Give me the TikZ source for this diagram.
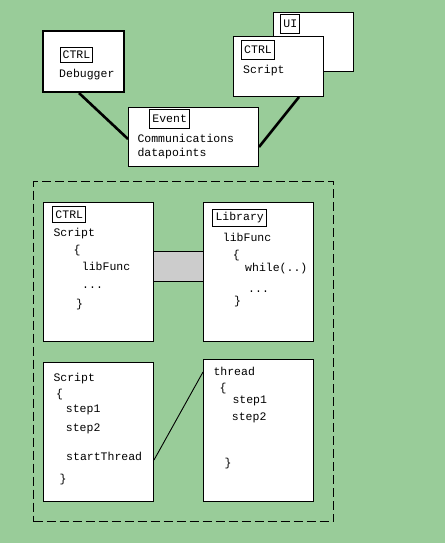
\documentclass[tikz,border=0pt]{standalone}
\usepackage{fontspec}
\newfontfamily\monof{Liberation Mono}
\usetikzlibrary{calc}
\definecolor{bggreen}{RGB}{153,204,153}
\definecolor{bridgegray}{RGB}{204,204,204}
\begin{document}
\begin{tikzpicture}[x=1pt,y=-1pt,
  box/.style={draw, fill=white, line width=1pt, inner sep=0pt, anchor=north west},
  lbl/.style={draw, fill=white, line width=0.9pt, inner xsep=2.6pt, inner ysep=0pt, minimum height=17pt, font=\monof\fontsize{11.5}{13}\selectfont},
  txt/.style={anchor=mid west, inner sep=0pt, font=\monof\fontsize{11.5}{13}\selectfont},
  thickline/.style={line width=2.6pt},
  thinline/.style={line width=0.9pt}]
\fill[bggreen] (0,0) rectangle (445,543);
\useasboundingbox (0,0) rectangle (445,543);
% outer dashed frame
\node[box, fill=none, dash pattern=on 9pt off 4pt, minimum width=300pt, minimum height=340pt] (outer) at (33,181) {};
% top boxes
\node[box, line width=2pt, minimum width=81pt, minimum height=61pt] (dbg) at (42,30) {};
\node[box, minimum width=80pt, minimum height=59pt] (ui) at (273,12) {};
\node[box, minimum width=90pt, minimum height=60pt] (ctrlS) at (233,36) {};
\node[box, minimum width=130pt, minimum height=59pt] (ev) at (128,107) {};
% connectors top
\draw[thickline] ($(dbg.south west)+(37,0)$) -- ($(ev.north west)+(0,32)$);
\draw[thickline] ($(ev.north east)+(0,40)$) -- ($(ctrlS.south west)+(66,0)$);
% labels top
\node[lbl, minimum height=15.5pt] (dbgtag) at (76.5,55) {CTRL};
\node[txt] (dbgtxt) at (59,75) {Debugger};
\node[lbl, minimum height=19pt] (uitag) at (290.3,23.7) {UI};
\node[lbl, minimum height=19pt] (cstag) at (258,49.7) {CTRL};
\node[txt] (cstxt) at (243,71) {Script};
\node[lbl, minimum height=19pt] (evtag) at (169.7,118.8) {Event};
\node[txt] (evt1) at (137.3,140) {Communications};
\node[txt] (evt2) at (137.3,154.5) {datapoints};
% inner boxes
\node[box, minimum width=110pt, minimum height=139pt] (cs) at (43,202) {};
\node[box, minimum width=110pt, minimum height=139pt] (lib) at (203,202) {};
\node[box, fill=bridgegray, minimum width=50pt, minimum height=30pt] (bridge) at (153,251) {};
\node[box, minimum width=110pt, minimum height=139pt] (sc) at (43,362) {};
\node[box, minimum width=110pt, minimum height=142pt] (th) at (203,359) {};
\draw[thinline] ($(sc.north east)+(0,98)$) -- ($(th.north west)+(0,13)$);
% CTRL script box text
\node[lbl, minimum height=16pt] (cstag2) at (69.3,214.7) {CTRL};
\node[txt] (a1) at (53.3,234) {Script};
\node[txt] (a2) at (73.3,251) {\{};
\node[txt] (a3) at (81.7,268.3) {libFunc};
\node[txt] (a4) at (82,286) {...};
\node[txt] (a5) at (76,305.7) {\}};
% Library box text
\node[lbl, minimum height=16.7pt] (libtag) at (239.7,217.7) {Library};
\node[txt] (b1) at (222.7,239.3) {libFunc};
\node[txt] (b2) at (232.7,256) {\{};
\node[txt] (b3) at (245,269.3) {while(..)};
\node[txt] (b4) at (248,290) {...};
\node[txt] (b5) at (234,302.3) {\}};
% Script box text
\node[txt] (c1) at (53.3,379.3) {Script};
\node[txt] (c2) at (56,395) {\{};
\node[txt] (c3) at (65.7,410.7) {step1};
\node[txt] (c4) at (65.7,429.3) {step2};
\node[txt] (c5) at (66,458.3) {startThread};
\node[txt] (c6) at (59.3,480) {\}};
% thread box text
\node[txt] (d1) at (213.3,373.3) {thread};
\node[txt] (d2) at (219.3,389.3) {\{};
\node[txt] (d3) at (232.3,401.7) {step1};
\node[txt] (d4) at (231.7,418.3) {step2};
\node[txt] (d5) at (224.3,464) {\}};
\end{tikzpicture}
\end{document}
